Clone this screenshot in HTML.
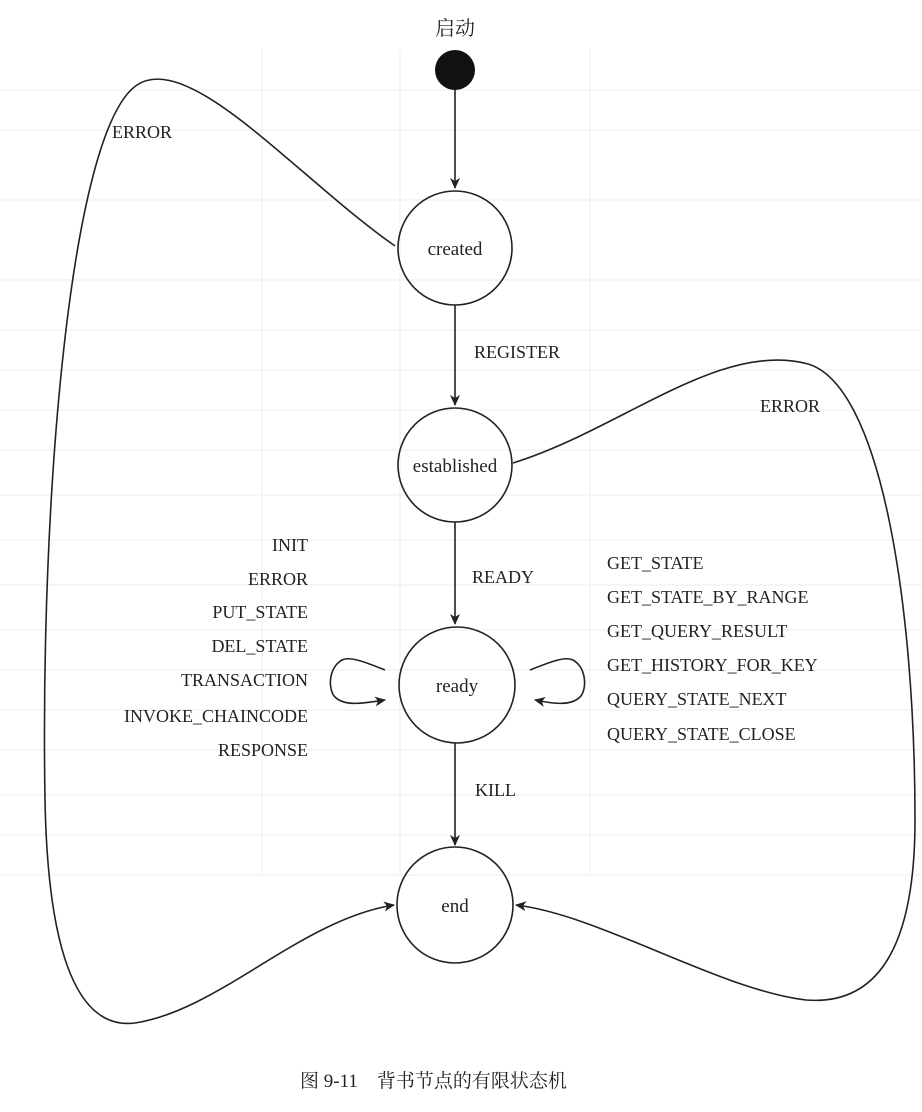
<!DOCTYPE html>
<html><head><meta charset="utf-8"><style>
html,body{margin:0;padding:0;background:#fff;}
svg{display:block;}
text{font-family:"Liberation Serif","Noto Serif CJK SC",serif;fill:#222;}
</style></head><body>
<svg width="922" height="1112" viewBox="0 0 922 1112" xmlns="http://www.w3.org/2000/svg">
<defs>
<marker id="a" markerWidth="12" markerHeight="12" refX="10" refY="5" orient="auto" markerUnits="userSpaceOnUse">
<path d="M0,0 L11,5 L0,10 L3,5 Z" fill="#222"/></marker>
</defs>
<g stroke="#ececec" stroke-width="1">
<line x1="0" y1="90" x2="922" y2="90"/><line x1="0" y1="130" x2="922" y2="130"/>
<line x1="0" y1="200" x2="922" y2="200"/><line x1="0" y1="280" x2="922" y2="280"/>
<line x1="0" y1="330" x2="922" y2="330"/><line x1="0" y1="370" x2="922" y2="370"/>
<line x1="0" y1="410" x2="922" y2="410"/><line x1="0" y1="450" x2="922" y2="450"/>
<line x1="0" y1="495" x2="922" y2="495"/><line x1="0" y1="540" x2="922" y2="540"/>
<line x1="0" y1="585" x2="922" y2="585"/><line x1="0" y1="630" x2="922" y2="630"/>
<line x1="0" y1="670" x2="922" y2="670"/><line x1="0" y1="710" x2="922" y2="710"/>
<line x1="0" y1="750" x2="922" y2="750"/><line x1="0" y1="795" x2="922" y2="795"/>
<line x1="0" y1="835" x2="922" y2="835"/><line x1="0" y1="875" x2="922" y2="875"/>
<line x1="262" y1="50" x2="262" y2="875"/><line x1="400" y1="50" x2="400" y2="875"/>
<line x1="590" y1="50" x2="590" y2="875"/>
</g>
<g fill="none" stroke="#222" stroke-width="1.6">
<line x1="455" y1="90" x2="455" y2="188" marker-end="url(#a)"/>
<line x1="455" y1="305" x2="455" y2="405" marker-end="url(#a)"/>
<line x1="455" y1="522" x2="455" y2="624" marker-end="url(#a)"/>
<line x1="455" y1="743" x2="455" y2="845" marker-end="url(#a)"/>
<circle cx="455" cy="248" r="57"/>
<circle cx="455" cy="465" r="57"/>
<circle cx="457" cy="685" r="58"/>
<circle cx="455" cy="905" r="58"/>
<path d="M395,246 C300,180 190,50 137,85 C70,130 40,500 45,800 C48,960 80,1030 135,1023 C220,1010 300,920 394,905" marker-end="url(#a)"/>
<path d="M513,463 C620,430 720,340 808,364 C880,385 915,600 915,820 C915,960 870,1005 806,1000 C720,990 600,915 516,905" marker-end="url(#a)"/>
<path d="M385,670 C365,662 350,656 342,660 C328,668 328,690 335,697 C345,707 365,703 385,700" marker-end="url(#a)"/>
<path d="M530,670 C550,662 565,656 573,660 C587,668 587,690 580,697 C570,707 550,703 535,700" marker-end="url(#a)"/>
</g>
<circle cx="455" cy="70" r="20" fill="#111"/>
<g font-size="20">
<text x="455" y="35" text-anchor="middle">启动</text>
<text x="455" y="255" text-anchor="middle" font-size="19">created</text>
<text x="455" y="472" text-anchor="middle" font-size="19">established</text>
<text x="457" y="692" text-anchor="middle" font-size="19">ready</text>
<text x="455" y="912" text-anchor="middle" font-size="19">end</text>
</g>
<g font-size="18">
<text x="112" y="138">ERROR</text>
<text x="760" y="412">ERROR</text>
<text x="474" y="358">REGISTER</text>
<text x="472" y="583">READY</text>
<text x="475" y="796">KILL</text>
</g>
<g font-size="18" text-anchor="end">
<text x="308" y="551">INIT</text>
<text x="308" y="585">ERROR</text>
<text x="308" y="618">PUT_STATE</text>
<text x="308" y="652">DEL_STATE</text>
<text x="308" y="686">TRANSACTION</text>
<text x="308" y="722">INVOKE_CHAINCODE</text>
<text x="308" y="756">RESPONSE</text>
</g>
<g font-size="18">
<text x="607" y="569">GET_STATE</text>
<text x="607" y="603">GET_STATE_BY_RANGE</text>
<text x="607" y="637">GET_QUERY_RESULT</text>
<text x="607" y="671">GET_HISTORY_FOR_KEY</text>
<text x="607" y="705">QUERY_STATE_NEXT</text>
<text x="607" y="740">QUERY_STATE_CLOSE</text>
</g>
<text x="300" y="1087" font-size="19">图 9-11　背书节点的有限状态机</text>
</svg>
</body></html>
